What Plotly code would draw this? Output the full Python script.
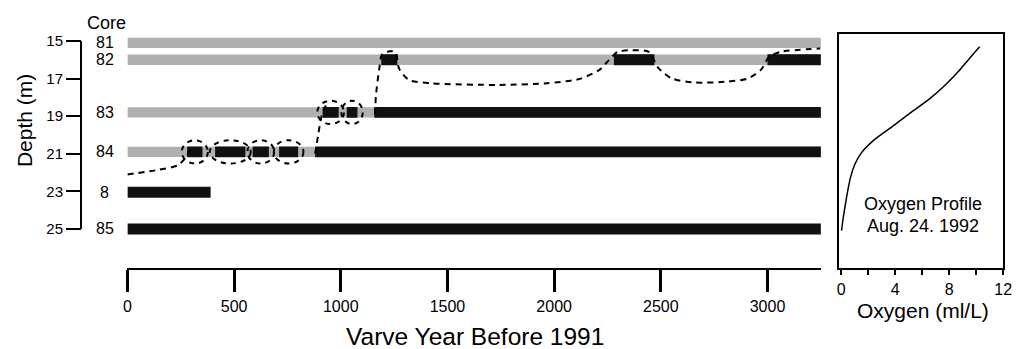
import plotly.graph_objects as go

W, H = 1022, 349
FONT = "Liberation Sans, Arial, Helvetica, sans-serif"

# ---------------- data ----------------
core_names = ["81", "82", "83", "84", "8", "85"]
core_depth = [15.1, 16.0, 18.8, 20.9, 23.05, 25.0]

# light (stippled) spans: cores 81-84 over full record
gray_cores = ["81", "82", "83", "84"]
gray_start = [0, 0, 0, 0]
gray_end = [3250, 3250, 3250, 3250]

# dark (laminated) spans
black_core = ["82", "82", "82", "83", "83", "83", "84", "84", "84", "84", "84", "8", "85"]
black_start = [1190, 2280, 3000, 915, 1028, 1157, 280, 411, 587, 711, 880, 0, 0]
black_end = [1265, 2470, 3250, 990, 1078, 3250, 352, 553, 663, 800, 3250, 390, 3250]

# dark spans that are encircled by dashed loops
loop_core = ["84", "84", "84", "84", "83", "83"]
loop_start = [280, 411, 587, 711, 915, 1028]
loop_end = [352, 553, 663, 800, 990, 1078]

# dashed oxic/anoxic boundary
boundary_year = [0, 147, 239, 278, 300, None,
                 880, 894, 910, 935, None,
                 1160, 1165, 1180, 1194, 1230, 1257, 1273, 1319, 1425, 1735, 1967,
                 2119, 2212, 2258, 2298, 2368, 2443, 2490, 2553, 2661, 2814, 2906,
                 2969, 3008, 3062, 3247]
boundary_depth = [22.1, 21.85, 21.6, 21.1, 20.55, None,
                  21.0, 20.0, 19.0, 18.3, None,
                  18.9, 17.9, 16.5, 15.7, 15.55, 15.6, 16.46, 17.07, 17.25, 17.34, 17.25,
                  17.02, 16.54, 16.0, 15.58, 15.49, 15.58, 16.46, 17.0, 17.21, 17.16, 17.0,
                  16.54, 15.84, 15.58, 15.40]

# oxygen profile (Aug. 24, 1992)
oxygen = [10.26, 9.41, 8.68, 7.71, 6.61, 5.27, 3.80, 2.46, 1.49, 1.00, 0.68, 0.39, 0.15, 0.02]
oxy_depth = [15.31, 16.01, 16.63, 17.34, 18.04, 18.75, 19.54, 20.25, 20.95, 21.57, 22.27, 23.33, 24.39, 25.09]

year_ticks = [0, 500, 1000, 1500, 2000, 2500, 3000]
depth_ticks = [15, 17, 19, 21, 23, 25]
oxy_ticks = [0, 4, 8, 12]
oxy_minor = [2, 6, 10]

depth_of = dict(zip(core_names, core_depth))

# ---------------- figure ----------------
fig = go.Figure()

fig.add_trace(go.Bar(
    orientation="h",
    y=[depth_of[c] for c in gray_cores],
    base=gray_start,
    x=[e - s for s, e in zip(gray_start, gray_end)],
    width=0.55,
    marker=dict(color="#b0b0b0", line=dict(width=0)),
    xaxis="x", yaxis="y", hoverinfo="skip",
))
fig.add_trace(go.Bar(
    orientation="h",
    y=[depth_of[c] for c in black_core],
    base=black_start,
    x=[e - s for s, e in zip(black_start, black_end)],
    width=0.58,
    marker=dict(color="#111111", line=dict(width=0)),
    xaxis="x", yaxis="y", hoverinfo="skip",
))
fig.add_trace(go.Scatter(
    x=boundary_year, y=boundary_depth, mode="lines",
    line=dict(color="black", width=2, dash="6px,5px", shape="spline", smoothing=0.7),
    connectgaps=False, xaxis="x", yaxis="y", hoverinfo="skip",
))
fig.add_trace(go.Scatter(
    x=oxygen, y=oxy_depth, mode="lines",
    line=dict(color="black", width=1.5, shape="spline", smoothing=0.8),
    xaxis="x2", yaxis="y2", hoverinfo="skip",
))

shapes = []
for c, s, e in zip(loop_core, loop_start, loop_end):
    d = depth_of[c]
    shapes.append(dict(type="circle", xref="x", yref="y",
                       x0=s - 25, x1=e + 25, y0=d - 0.62, y1=d + 0.62,
                       line=dict(color="black", width=2, dash="5px,5px")))
# left depth axis line spanning the core depths only
shapes.append(dict(type="line", xref="paper", yref="y",
                   x0=78 / W, x1=78 / W, y0=depth_ticks[0], y1=depth_ticks[-1],
                   line=dict(color="black", width=2)))


def label(text, x, y, size, xref="paper", yref="paper", angle=0):
    return dict(text=text, xref=xref, yref=yref, x=x, y=y, textangle=angle,
                xanchor="center", yanchor="middle", showarrow=False,
                font=dict(size=size, family=FONT, color="black"))


ann = [label("Core", 104 / W, 1 - 21 / H, 18)]
for c, d in zip(core_names, core_depth):
    ann.append(label(c, 102 / W, d, 16, yref="y"))
ann.append(label("Depth (m)", 21 / W, 1 - 119 / H, 21, angle=-90))
ann.append(label("Varve Year Before 1991", 477 / W, 1 - 336 / H, 24.5))
ann.append(label("Oxygen Profile", 931 / W, 1 - 203 / H, 18))
ann.append(label("Aug. 24. 1992", 931 / W, 1 - 225 / H, 18))
ann.append(label("Oxygen (ml/L)", 931 / W, 1 - 310 / H, 21))

ydom = [1 - 268 / H, 1 - 32 / H]
yrange = [27.1, 14.62]

fig.update_layout(
    width=W, height=H,
    margin=dict(l=0, r=0, t=0, b=0),
    paper_bgcolor="white", plot_bgcolor="white",
    showlegend=False, barmode="overlay",
    font=dict(family=FONT, color="black"),
    shapes=shapes, annotations=ann,
    xaxis=dict(domain=[125 / W, 828 / W], range=[0, 3253], anchor="y",
               showline=True, linecolor="black", linewidth=2,
               ticks="outside", ticklen=22, tickwidth=2.5, tickcolor="black",
               tickvals=year_ticks, tickfont=dict(size=16, family=FONT),
               showgrid=False, zeroline=False),
    yaxis=dict(domain=ydom, range=yrange, anchor="free", position=78 / W,
               showline=False, ticks="outside", ticklen=15, tickwidth=2,
               tickcolor="black", tickvals=depth_ticks,
               tickfont=dict(size=15, family=FONT),
               showgrid=False, zeroline=False),
    xaxis2=dict(domain=[846 / W, 1012 / W], range=[-0.15, 12], anchor="y2",
                showline=True, mirror=True, linecolor="black", linewidth=2,
                ticks="outside", ticklen=5, tickwidth=1.5, tickcolor="black",
                tickvals=oxy_ticks, tickfont=dict(size=16, family=FONT),
                minor=dict(tickvals=oxy_minor, ticks="outside", ticklen=5,
                           tickwidth=1.5, tickcolor="black"),
                showgrid=False, zeroline=False),
    yaxis2=dict(domain=ydom, range=yrange, anchor="x2",
                showline=True, mirror=True, linecolor="black", linewidth=2,
                showticklabels=False, ticks="", showgrid=False, zeroline=False),
)

fig.write_html("out.html")
